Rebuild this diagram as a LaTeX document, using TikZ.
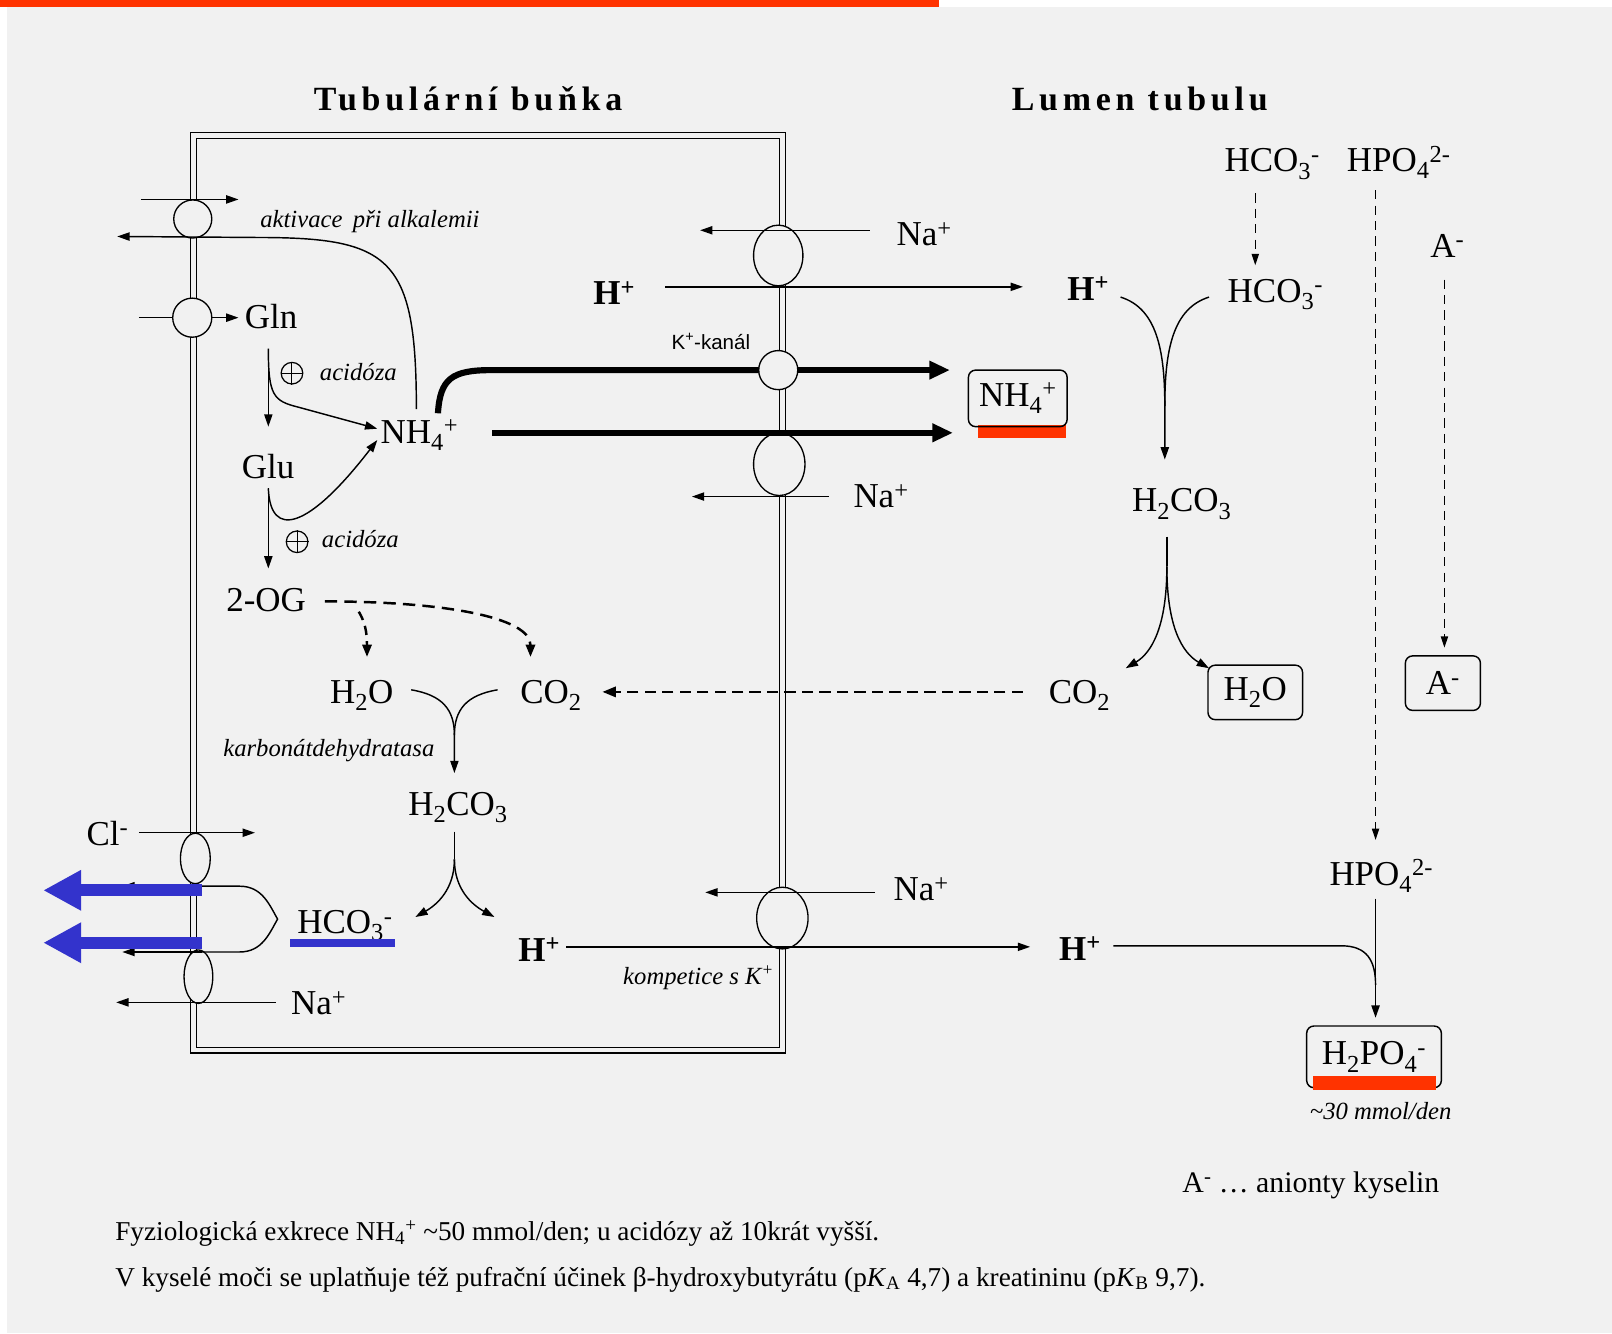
\documentclass[tikz,border=0pt]{standalone}
\usepackage{fontspec}
\setmainfont{Liberation Serif}
\setsansfont{Liberation Sans}
\usetikzlibrary{arrows.meta,shapes.geometric,calc}
\definecolor{bg}{RGB}{241,241,241}
\definecolor{redbar}{RGB}{255,51,0}
\definecolor{bluearr}{RGB}{51,51,204}
\newcommand\chemfont{\fontsize{34}{40}\selectfont}
\newcommand\sbs[1]{\textsubscript{#1}}
\newcommand\sps[1]{\textsuperscript{#1}}
\begin{document}
\begin{tikzpicture}[x=1pt,y=-1pt,
  chem/.style={font=\chemfont, inner sep=0pt, anchor=base west},
  chb/.style={font=\chemfont\bfseries, inner sep=0pt, anchor=base west},
  lab/.style={font=\fontsize{24}{28}\selectfont\itshape, inner sep=0pt, anchor=base west},
  title/.style={font=\fontsize{33}{38}\selectfont\bfseries\addfontfeatures{LetterSpace=14}, inner sep=0pt, anchor=base west},
  foot/.style={font=\fontsize{26.5}{30}\selectfont, inner sep=0pt, anchor=base west},
  boxed/.style={draw, rounded corners=7pt, line width=1.4pt, inner sep=0pt, font=\chemfont},
  tr/.style={ellipse, draw, fill=bg, line width=1.3pt, inner sep=0pt},
  ln/.style={line width=1.4pt},
  ar/.style={line width=1.4pt, -{Triangle[length=12pt,width=8pt]}},
  thk/.style={line width=6pt},
  thka/.style={line width=6pt, -{Triangle[length=20pt,width=17pt]}},
  dshA/.style={line width=2.4pt, dash pattern=on 12pt off 7pt},
  dshB/.style={line width=2.2pt, dash pattern=on 11pt off 6pt},
  dshC/.style={line width=1.3pt, dash pattern=on 9pt off 6pt},
  blue arrow/.style={line width=12pt, draw=bluearr, -{Triangle[length=37pt,width=37pt]}},
  plus/.style={circle, draw, line width=1.2pt, minimum size=21pt, inner sep=0pt}
]
\useasboundingbox (0,0) rectangle (1568,1297);
% background
\fill[white] (0,0) rectangle (1568,1297);
\fill[bg] (7,7) rectangle (1568,1297);
\fill[redbar] (0,0) rectangle (913,7);

% titles
\node[title] (tcell) at (305,107) {Tubulární buňka};
\node[title] (tlumen) at (984,107) {Lumen tubulu};

% cell membrane
\draw[line width=1.3pt, double=bg, double distance=4.5pt] (188,131.5) rectangle (761,1021.5);

% thick K channel line (behind channel)
\coordinate (nhA) at (426,402);
\coordinate (thkE1) at (924,360);

% transporters
\node[tr, minimum width=37pt, minimum height=37pt] (tA) at (187.5,213) {};
\node[tr, minimum width=38pt, minimum height=38pt] (tG) at (187,309) {};
\node[tr, minimum width=48pt, minimum height=59pt] (tNH) at (757,248.5) {};
\node[tr, minimum width=50pt, minimum height=61pt] (tNa2) at (758,451.5) {};
\node[tr, minimum width=50pt, minimum height=60pt] (tNa3) at (761,893) {};
\node[tr, minimum width=29pt, minimum height=49pt] (tCl) at (190,835) {};
\node[tr, minimum width=28pt, minimum height=52pt] (tNa4) at (193,950) {};
\draw[thk] (nhA) .. controls (428,368) and (440,360) .. (478,360) -- (740,360);
\node[tr, minimum width=38pt, minimum height=38pt] (tK) at (757,360) {};
\draw[thka] (tK.east) -- (thkE1);

% ---- cell interior texts
\node[chem] (gln) at (238,320) {Gln};
\node[chem] (nh4i) at (370,431) {NH\sbs{4}\sps{+}};
\node[chem] (glu) at (235,465) {Glu};
\node[chem] (og) at (220,595) {2-OG};
\node[chem] (h2oi) at (321,684) {H\sbs{2}O};
\node[chem] (co2i) at (506,684) {CO\sbs{2}};
\node[chem] (h2co3i) at (397,793) {H\sbs{2}CO\sbs{3}};
\node[chem] (hco3i) at (289,908) {HCO\sbs{3}\sps{-}};
\node[chb] (hi2) at (504,935) {H\sps{+}};
\node[chem] (nai4) at (283,987) {Na\sps{+}};
\node[chem] (cl) at (84,822) {Cl\sps{-}};
\node[chb] (hi1) at (577,296) {H\sps{+}};

\node[lab] (akt) at (253,221) {aktivace\, při alkalemii};
\node[plus] (pl1) at (284,363) {};
\draw[line width=1pt] (pl1.north) -- (pl1.south) (pl1.west) -- (pl1.east);
\node[lab] (ac1) at (311,370) {acidóza};
\node[plus] (pl2) at (289,527) {};
\draw[line width=1pt] (pl2.north) -- (pl2.south) (pl2.west) -- (pl2.east);
\node[lab] (ac2) at (313,533) {acidóza};
\node[lab] (kdh) at (217,736) {karbonátdehydratasa};
\node[lab] (komp) at (606,958) {kompetice s K\sps{+}};
\node[font=\fontsize{20}{24}\selectfont\sffamily, inner sep=0pt, anchor=base west] (kk) at (653,340) {K\sps{+}-kanál};

% ---- membrane-side labels
\node[chem] (na1) at (872,239) {Na\sps{+}};
\node[chem] (na2) at (830,494) {Na\sps{+}};
\node[chem] (na3) at (869,876) {Na\sps{+}};

% ---- lumen texts
\node[chb] (hl1) at (1038,292) {H\sps{+}};
\node[chem] (hco3t) at (1191,167) {HCO\sbs{3}\sps{-}};
\node[chem] (hpo4t) at (1310,167) {HPO\sbs{4}\sps{2-}};
\node[chem] (hco3m) at (1194,294) {HCO\sbs{3}\sps{-}};
\node[chem] (at) at (1391,250) {A\sps{-}};
\node[chem] (h2co3l) at (1101,498) {H\sbs{2}CO\sbs{3}};
\node[chem] (co2l) at (1020,684) {CO\sbs{2}};
\node[chb] (hl2) at (1030,934) {H\sps{+}};
\node[chem] (hpo4l) at (1293,861) {HPO\sbs{4}\sps{2-}};

\fill[redbar] (951,413) rectangle (1037,426);
\node[boxed, minimum width=96pt, minimum height=55pt] (nh4l) at (990,387.5) {NH\sbs{4}\sps{+}};
\node[boxed, minimum width=92pt, minimum height=53pt] (h2ol) at (1221,673.5) {H\sbs{2}O};
\node[boxed, minimum width=73pt, minimum height=53pt] (abox) at (1403.5,664.5) {A\sps{-}};
\node[boxed, minimum width=131pt, minimum height=60pt] (h2po4) at (1336.5,1028) {H\sbs{2}PO\sbs{4}\sps{-}};
\fill[redbar] (1277,1047) rectangle (1397,1060);
\node[lab] (mmol) at (1274,1089) {\textasciitilde30 mmol/den};

\node[font=\fontsize{29}{34}\selectfont, inner sep=0pt, anchor=base west] (leg) at (1150,1160) {A\sps{-} … anionty kyselin};
\node[foot] (f1) at (112,1207) {Fyziologická exkrece NH\sbs{4}\sps{+} \textasciitilde50 mmol/den; u acidózy až 10krát vyšší.};
\node[foot] (f2) at (112,1251) {V kyselé moči se uplatňuje též pufrační účinek β-hydroxybutyrátu (p\textit{K}\sbs{A} 4,7) a kreatininu (p\textit{K}\sbs{B} 9,7).};

% ---- connectors, left membrane
\coordinate (a1s) at (137,194); \coordinate (a1e) at (232,194);
\draw[ar] (a1s) -- (a1e);
\coordinate (nhB) at (405,398); \coordinate (outA) at (114,230);
\draw[ar] (nhB) .. controls (405,250) and (380,231) .. (250,231) -- (outA);
\coordinate (glnS) at (135,309);
\draw[ln] (glnS) -- (tG.west);
\draw[ar, shorten >=6pt] (tG.east) -- (gln.west |- tG.east);
\coordinate (g1) at (261,339); \coordinate (g2) at (261,415);
\draw[ar] (g1) -- (g2);
\draw[ar] (g1) .. controls (261,385) and (266,390) .. (290,396) -- (367,417);
\coordinate (u1) at (261,475); \coordinate (u2) at (261,553);
\draw[ar] (u1) -- (u2);
\draw[ar] (u1) .. controls (263,525) and (300,515) .. (367,428);
% 2-OG dashed
\coordinate (d1) at (316,585);
\draw[dshA, -{Triangle[length=12pt,width=9pt]}] (d1) .. controls (430,585) and (516,600) .. (516,639);
\draw[dshA, dash pattern=on 9pt off 6pt, -{Triangle[length=12pt,width=9pt]}] (349,595) .. controls (355,605) and (357,615) .. (357,639);
% H2O + CO2 -> H2CO3
\coordinate (m1) at (442,715);
\draw[ln] (400,671) .. controls (430,676) and (442,690) .. (m1);
\draw[ar] (484,671) .. controls (454,676) and (442,690) .. (m1) -- (442,752);
% H2CO3 split
\coordinate (s1) at (442,809); \coordinate (s2) at (442,836);
\draw[ln] (s1) -- (s2);
\draw[ar] (s2) .. controls (442,865) and (425,880) .. (404,892);
\draw[ar] (s2) .. controls (442,865) and (459,880) .. (481,892);
% Cl, HCO3, Na at left membrane
\coordinate (clE) at (248,810);
\draw[ar] (135,810) -- (clE);
\coordinate (naE) at (113,975);
\draw[ar] (268,975) -- (naE);
\draw[ln] (196,862) -- (233,862) .. controls (255,862) and (262,880) .. (270,894) .. controls (262,908) and (255,926) .. (233,926) -- (196,926);
\draw[ar] (196,862) -- (119,862);
\draw[ar] (196,926) -- (119,926);
\draw[blue arrow] (196,866) -- (42,866);
\draw[blue arrow] (196,917) -- (42,917);
\fill[bluearr] (282,913) rectangle (384,921);

% ---- right membrane connectors
\draw[ar] (846,224) -- (681,224);
\coordinate (hE1) at (995,279);
\draw[ar] (647,279) -- (hE1);
\coordinate (nhC) at (479,421); \coordinate (thkE2) at (927,421);
\draw[thka] (nhC) -- (thkE2);
\draw[ar] (806,483) -- (673,483);
\draw[ar] (851,868) -- (686,868);
\draw[ar] (551,921) -- (1002,921);
% CO2 back diffusion
\draw[dshB, -{Triangle[length=13pt,width=10pt]}] (995,673) -- (586,673);

% ---- lumen connectors
\draw[dshC, -{Triangle[length=11pt,width=7pt]}] (1221,188) -- (1221,258);
\coordinate (c1) at (1133,395);
\draw[ln] (1090,289) .. controls (1125,300) and (1133,340) .. (c1);
\draw[ar] (1176,289) .. controls (1141,300) and (1133,340) .. (c1) -- (1133,447);
\coordinate (l1) at (1135,522); \coordinate (l2) at (1135,551);
\draw[ln] (l1) -- (l2);
\draw[ar] (l2) .. controls (1135,610) and (1120,635) .. (1095,650);
\draw[ar] (l2) .. controls (1135,610) and (1150,635) .. (1176,650);
\draw[dshC, -{Triangle[length=11pt,width=7pt]}] (1338,185) -- (1338,817);
\draw[dshC, -{Triangle[length=11pt,width=7pt]}] (1405,272) -- (1405,630);
\draw[ar] (1338,874) -- (1338,990);
\draw[ln] (1083,920) -- (1305,920) .. controls (1330,920) and (1338,935) .. (1338,958);
\end{tikzpicture}
\end{document}
